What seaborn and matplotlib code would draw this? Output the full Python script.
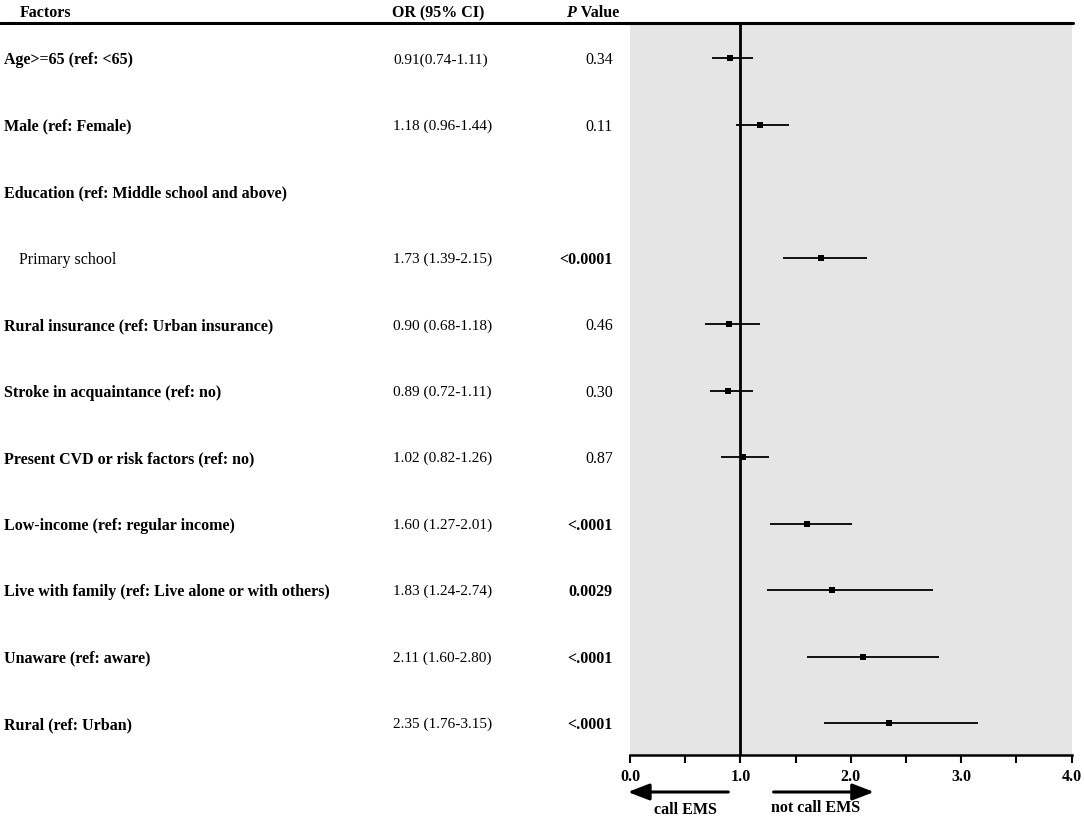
import matplotlib
matplotlib.use("Agg")
import matplotlib.pyplot as plt
import matplotlib.transforms as mtransforms
import seaborn as sns
import pandas as pd

# data
factors = ["Age>=65 (ref: <65)", "Male (ref: Female)",
           "Education (ref: Middle school and above)", "Primary school",
           "Rural insurance (ref: Urban insurance)", "Stroke in acquaintance (ref: no)",
           "Present CVD or risk factors (ref: no)", "Low-income (ref: regular income)",
           "Live with family (ref: Live alone or with others)", "Unaware (ref: aware)",
           "Rural (ref: Urban)"]
or_val = [0.91, 1.18, None, 1.73, 0.90, 0.89, 1.02, 1.60, 1.83, 2.11, 2.35]
ci_low = [0.74, 0.96, None, 1.39, 0.68, 0.72, 0.82, 1.27, 1.24, 1.60, 1.76]
ci_high = [1.11, 1.44, None, 2.15, 1.18, 1.11, 1.26, 2.01, 2.74, 2.80, 3.15]
or_text = ["0.91(0.74-1.11)", "1.18 (0.96-1.44)", "", "1.73 (1.39-2.15)",
           "0.90 (0.68-1.18)", "0.89 (0.72-1.11)", "1.02 (0.82-1.26)",
           "1.60 (1.27-2.01)", "1.83 (1.24-2.74)", "2.11 (1.60-2.80)", "2.35 (1.76-3.15)"]
p_text = ["0.34", "0.11", "", "<0.0001", "0.46", "0.30", "0.87",
          "<.0001", "0.0029", "<.0001", "<.0001"]
p_bold = [False, False, False, True, False, False, False, True, True, True, True]
label_bold = [True, True, True, False, True, True, True, True, True, True, True]
x_ticks = [0.0, 1.0, 2.0, 3.0, 4.0]

df = pd.DataFrame({"row": range(len(factors)), "factor": factors, "OR": or_val,
                   "lo": ci_low, "hi": ci_high})
pts = df.dropna()

sns.set_theme(style="white")
plt.rcParams['font.family'] = ['Liberation Serif', 'DejaVu Serif']
plt.rcParams['text.color'] = 'black'
plt.rcParams['xtick.color'] = 'black'
fs = 11.5

W, H = 1084, 818
fig = plt.figure(figsize=(W / 100, H / 100), dpi=100)
ax = fig.add_axes([630 / W, 1 - 755 / H, (1071.7 - 630) / W, (755 - 25) / H])
ax.set_facecolor("#e5e5e5")

# CI lines and point estimates
ax.hlines(pts["row"], pts["lo"], pts["hi"], color="black", lw=1.3, zorder=2)
sns.scatterplot(data=pts, x="OR", y="row", marker="s", s=22, color="black",
                edgecolor="black", linewidth=0, ax=ax, zorder=3)
ax.axvline(1.0, color="black", lw=2, zorder=4)

ax.set_xlim(0, 4)
ax.set_ylim(10.48, -0.50)
ax.set_xticks(x_ticks)
ax.set_xticks([0.5, 1.5, 2.5, 3.5], minor=True)
ax.set_xticklabels([f"{t:.1f}" for t in x_ticks], fontweight="bold", fontsize=fs)
ax.set_yticks([])
ax.set_xlabel("")
ax.set_ylabel("")
for s in ["top", "right", "left"]:
    ax.spines[s].set_visible(False)
ax.spines["bottom"].set_color("black")
ax.spines["bottom"].set_linewidth(1.8)
ax.tick_params(axis="x", which="both", bottom=True, direction="out", length=6,
               width=1.5, color="black", pad=4)

# header line across the full table
fig.add_artist(plt.Line2D([0, 1073 / W], [1 - 23 / H, 1 - 23 / H], color="black", lw=2.2))
ax.plot([1.0, 1.0], [-0.53, -0.50], color="black", lw=2, clip_on=False)

# headers
hy = 1 - 11 / H
fig.text(20 / W, hy, "Factors", ha="left", va="center_baseline", fontweight="bold", fontsize=fs)
fig.text(438 / W, hy, "OR (95% CI)", ha="center", va="center_baseline", fontweight="bold", fontsize=fs)
fig.text(576 / W, hy, "P", ha="right", va="center_baseline", fontweight="bold",
         fontstyle="italic", fontsize=fs)
fig.text(577 / W, hy, " Value", ha="left", va="center_baseline", fontweight="bold", fontsize=fs)

# table text aligned with rows
trans = mtransforms.blended_transform_factory(fig.transFigure, ax.transData)
for i in range(len(factors)):
    x0 = 4 if label_bold[i] else 19
    ax.text(x0 / W, i, factors[i], transform=trans, ha="left", va="center_baseline",
            fontweight="bold" if label_bold[i] else "normal", fontsize=fs)
    ax.text(393 / W, i, or_text[i], transform=trans, ha="left", va="center_baseline",
            fontsize=11)
    ax.text(613 / W, i, p_text[i], transform=trans, ha="right", va="center_baseline",
            fontweight="bold" if p_bold[i] else "normal", fontsize=fs)

# direction arrows below the axis
ay = 1 - 792 / H
arrow = dict(arrowstyle="-|>,head_length=0.65,head_width=0.25", lw=2.2, color="black",
             mutation_scale=20, shrinkA=0, shrinkB=0)
ax.annotate("", xy=(-0.02, ay), xytext=(0.89, ay), xycoords=("data", "figure fraction"),
            textcoords=("data", "figure fraction"), arrowprops=arrow, annotation_clip=False)
ax.annotate("", xy=(2.21, ay), xytext=(1.30, ay), xycoords=("data", "figure fraction"),
            textcoords=("data", "figure fraction"), arrowprops=arrow, annotation_clip=False)
ax.annotate("call EMS", xy=(0.50, 1 - 810 / H), xycoords=("data", "figure fraction"),
            ha="center", va="center", fontweight="bold", fontsize=fs, annotation_clip=False)
ax.annotate("not call EMS", xy=(1.68, 1 - 808 / H), xycoords=("data", "figure fraction"),
            ha="center", va="center", fontweight="bold", fontsize=fs, annotation_clip=False)

fig.savefig("out.png", dpi=100)
